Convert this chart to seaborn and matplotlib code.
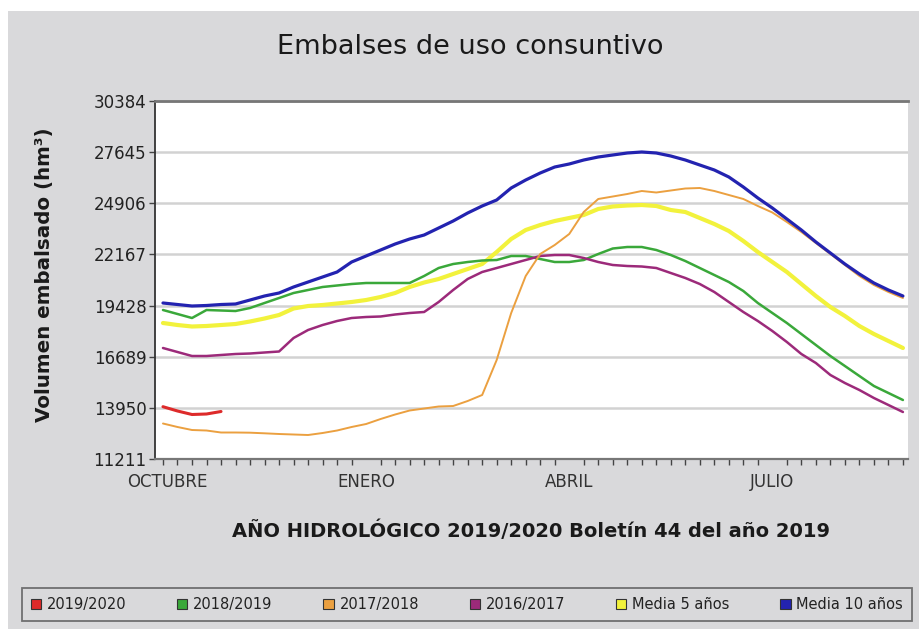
import numpy as np
import pandas as pd
import matplotlib
matplotlib.use("Agg")
import matplotlib.pyplot as plt
import seaborn as sns
from matplotlib.patches import Patch, Rectangle

# ---------------- data (hm3, weekly, hydrological year) ----------------
series_names = ["2019/2020", "2018/2019", "2017/2018", "2016/2017", "Media 5 años", "Media 10 años"]

s2019_2020 = [14012, 13782, 13594, 13621, 13755]

s2018_2019 = [19191, 18977, 18762, 19191, 19164, 19137, 19298, 19566, 19833, 20101,
              20262, 20423, 20503, 20583, 20637, 20637, 20637, 20637, 21012, 21440,
              21654, 21761, 21842, 21869, 22083, 22083, 21922, 21761, 21761, 21869,
              22190, 22484, 22565, 22565, 22404, 22136, 21815, 21440, 21065, 20690,
              20208, 19566, 19030, 18495, 17905, 17316, 16727, 16192, 15656, 15121,
              14746, 14371]

s2017_2018 = [13112, 12925, 12764, 12737, 12630, 12630, 12620, 12587, 12550, 12523,
              12496, 12603, 12737, 12925, 13085, 13353, 13594, 13808, 13915, 14023,
              14049, 14317, 14639, 16513, 19030, 21012, 22190, 22672, 23261, 24439,
              25136, 25269, 25403, 25564, 25484, 25591, 25698, 25725, 25564, 25350,
              25136, 24761, 24413, 23904, 23368, 22779, 22190, 21601, 21012, 20530,
              20155, 19833]

s2016_2017 = [17156, 16941, 16727, 16727, 16781, 16834, 16861, 16915, 16968, 17691,
              18120, 18387, 18602, 18762, 18816, 18843, 18950, 19030, 19084, 19619,
              20262, 20851, 21226, 21440, 21654, 21869, 22083, 22136, 22136, 21976,
              21761, 21601, 21547, 21520, 21440, 21172, 20905, 20583, 20155, 19619,
              19084, 18602, 18066, 17477, 16834, 16352, 15710, 15281, 14906, 14478,
              14103, 13728]

media5 = [18495, 18387, 18307, 18334, 18387, 18441, 18575, 18736, 18923, 19271,
          19405, 19459, 19539, 19619, 19726, 19887, 20101, 20423, 20664, 20851,
          21119, 21387, 21654, 22297, 22993, 23475, 23743, 23957, 24118, 24279,
          24600, 24734, 24787, 24814, 24761, 24546, 24439, 24118, 23797, 23422,
          22886, 22297, 21761, 21226, 20583, 19941, 19351, 18870, 18334, 17905,
          17531, 17156]

media10 = [19566, 19485, 19405, 19432, 19485, 19512, 19726, 19941, 20101, 20423,
           20690, 20958, 21226, 21761, 22083, 22404, 22725, 22993, 23207, 23582,
           23957, 24386, 24761, 25082, 25725, 26153, 26528, 26849, 27010, 27224,
           27385, 27492, 27599, 27653, 27599, 27438, 27224, 26956, 26689, 26314,
           25778, 25189, 24654, 24064, 23475, 22833, 22243, 21654, 21119, 20637,
           20262, 19941]

y_ticks = [11211, 13950, 16689, 19428, 22167, 24906, 27645, 30384]
month_labels = ["OCTUBRE", "ENERO", "ABRIL", "JULIO"]
month_pos = [0.3, 14, 28, 42]
n_weeks = 52

values = [s2019_2020, s2018_2019, s2017_2018, s2016_2017, media5, media10]
rows = []
for name, vals in zip(series_names, values):
    for i, v in enumerate(vals):
        rows.append({"semana": i, "volumen": v, "serie": name})
df = pd.DataFrame(rows)

# ---------------- style ----------------
colors = {"2019/2020": "#dd2a2a", "2018/2019": "#3aa83a", "2017/2018": "#eba040",
          "2016/2017": "#9c2a7a", "Media 5 años": "#f2f23c", "Media 10 años": "#2323b0"}
widths = {"2019/2020": 2.2, "2018/2019": 1.8, "2017/2018": 1.4,
          "2016/2017": 1.8, "Media 5 años": 3.0, "Media 10 años": 2.3}
draw_order = ["Media 5 años", "2018/2019", "2016/2017", "2017/2018", "Media 10 años", "2019/2020"]

BG = "#d9d9db"
sns.set_theme(style="white")
plt.rcParams['font.family'] = ['DejaVu Sans']

fig = plt.figure(figsize=(9.2, 6.29), dpi=100)
fig.patch.set_facecolor("white")
fig.add_artist(Rectangle((8 / 920, 0), 1 - 8 / 920, 1 - 11 / 629, transform=fig.transFigure,
                         facecolor=BG, edgecolor="none", zorder=-10))

ax = fig.add_axes([155 / 920, 1 - 459 / 629, (908 - 155) / 920, (459 - 101) / 629])
ax.set_facecolor("white")

for k, name in enumerate(draw_order):
    sub = df[df["serie"] == name]
    sns.lineplot(data=sub, x="semana", y="volumen", color=colors[name],
                 linewidth=widths[name], ax=ax, legend=False, zorder=3 + k)

ax.set_xlim(-0.55, n_weeks - 1 + 0.35)
ax.set_ylim(y_ticks[0], y_ticks[-1])
ax.set_yticks(y_ticks)
ax.set_yticklabels([str(t) for t in y_ticks])
ax.set_xticks(month_pos)
ax.set_xticklabels(month_labels)
ax.set_xticks(list(range(n_weeks)), minor=True)
ax.set_xlabel("")
ax.set_ylabel("")

ax.yaxis.grid(True, color="#d2d2d2", linewidth=1.8)
ax.xaxis.grid(False)
ax.set_axisbelow(True)

ax.tick_params(axis="y", which="major", direction="out", length=4, width=1, color="#444",
               labelsize=12, labelcolor="#222", pad=2, left=True)
ax.tick_params(axis="x", which="major", length=0, labelsize=12, labelcolor="#333", pad=10, bottom=True)
ax.tick_params(axis="x", which="minor", direction="out", length=4, width=1, color="#444", bottom=True)

for side in ["left", "bottom", "top"]:
    ax.spines[side].set_visible(True)
ax.spines["left"].set_color("#333")
ax.spines["left"].set_linewidth(1.3)
ax.spines["bottom"].set_color("#777")
ax.spines["bottom"].set_linewidth(1.6)
ax.spines["top"].set_color("#777")
ax.spines["top"].set_linewidth(2.0)
ax.spines["right"].set_visible(False)

fig.text(470 / 920, 1 - 47 / 629, "Embalses de uso consuntivo", ha="center", va="center",
         fontsize=19.5, color="#1a1a1a")
fig.text(45 / 920, 1 - 275 / 629, "Volumen embalsado (hm³)", ha="center", va="center",
         rotation=90, fontsize=14.3, fontweight="bold", color="#1a1a1a")
fig.text(531 / 920, 1 - 531 / 629, "AÑO HIDROLÓGICO 2019/2020 Boletín 44 del año 2019",
         ha="center", va="center", fontsize=14, fontweight="bold", color="#1a1a1a")

handles = [Patch(facecolor=colors[n], edgecolor="#333", linewidth=0.8) for n in series_names]
leg = fig.legend(handles, series_names, loc="center",
                 bbox_to_anchor=(22 / 920, 1 - 621 / 629, 890 / 920, 33 / 629),
                 mode="expand", ncol=6, frameon=True, fancybox=False,
                 fontsize=10.5, handlelength=0.7, handleheight=0.7, handletextpad=0.4,
                 borderpad=0.6, borderaxespad=0)
leg.get_frame().set_edgecolor("#555")
leg.get_frame().set_facecolor(BG)
leg.get_frame().set_linewidth(1.3)
for t in leg.get_texts():
    t.set_color("#222")

fig.savefig("out.png", dpi=100)
